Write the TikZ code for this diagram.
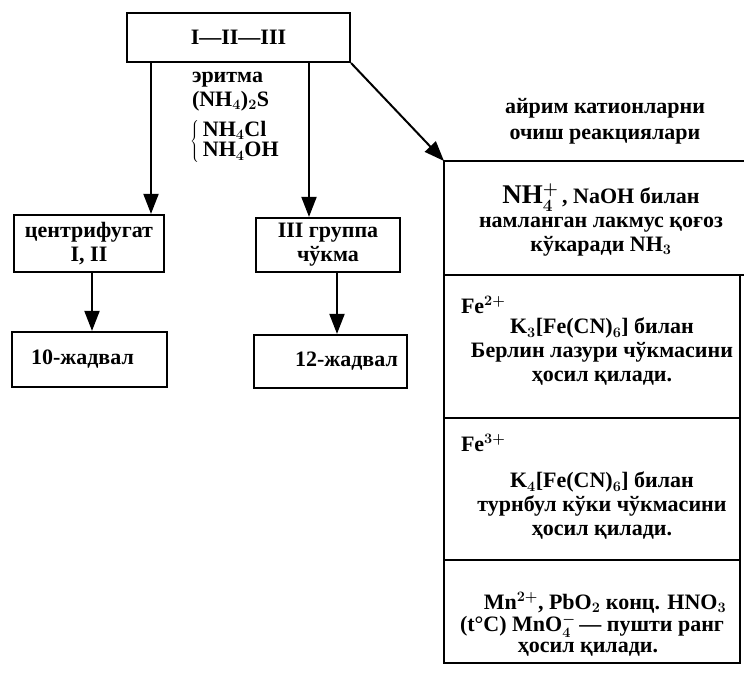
\documentclass[tikz,border=0pt]{standalone}
\usepackage{fontspec}
\setmainfont{Liberation Serif}
\usetikzlibrary{arrows.meta}
\newcommand\fsz{\fontsize{22}{24}\selectfont\bfseries\boldmath}
\newcommand\bigsz{\fontsize{27}{27}\selectfont}
\begin{document}
\begin{tikzpicture}[x=1pt,y=-1pt,
  line width=2pt,
  box/.style={draw, line width=2.2pt, inner sep=0pt, font=\fsz, align=center},
  arr/.style={-{Triangle[length=20pt,width=15pt]}, line width=2pt},
  txt/.style={inner sep=0pt, align=center, font=\fsz}]
\useasboundingbox (0,0) rectangle (744,676);

% top box
\node[box, minimum width=223pt, minimum height=49pt] (top) at (238.5,37.5) {I—II—III};
% second level
\node[box, minimum width=150pt, minimum height=57pt] (cf) at (89,243.5) {центрифугат\\I, II};
\node[box, minimum width=144pt, minimum height=54pt] (g3) at (328,245) {III группа\\чўкма};
% third level
\node[box, minimum width=155pt, minimum height=55pt,
      label={[txt, xshift=-7pt]center:10-жадвал}] (t10) at (89.5,359.5) {};
\node[box, minimum width=153pt, minimum height=53pt,
      label={[txt, xshift=16pt]center:12-жадвал}] (t12) at (330.5,361.5) {};

% reagent label
\node[txt, anchor=west, align=left] (lab1) at (191,92) {эритма\\(NH\(_4\))\(_2\)S};
\node[txt, anchor=west, align=left] (lab2) at (189,142)
  {\(\left\{\,\def\arraystretch{0.82}\begin{tabular}{@{}l@{}}NH\(_4\)Cl\\NH\(_4\)OH\end{tabular}\right.\)};

% connectors
\coordinate (xL) at (151,0);
\coordinate (xM) at (309,0);
\coordinate (xL2) at (92,0);
\coordinate (xM2) at (337,0);
\coordinate (tl) at (444,161);
\draw[arr] (top.south -| xL) -- (cf.north -| xL);
\draw[arr] (top.south -| xM) -- (g3.north -| xM);
\draw[arr] (cf.south -| xL2) -- (t10.north -| xL2);
\draw[arr] (g3.south -| xM2) -- (t12.north -| xM2);
\draw[arr] (top.south east) -- (tl);

% header
\node[txt] (hdr) at (605,121) {айрим катионларни\\[2pt]очиш реакциялари};

% table
\draw (744,161) -- (tl) -- (444,663) -- (740,663) -- (740,275);
\draw (444,275) -- (744,275);
\draw (444,418) -- (740,418);
\draw (444,560) -- (740,560);

% cells
\node[txt] (c1) at (601,220) {{\bigsz NH\(_4^+\)}\,, NaOH билан\\намланган лакмус қоғоз\\кўкаради NH\(_3\)};
\node[txt, anchor=west] (fe2) at (460,305) {Fe\(^{2+}\)};
\node[txt] (c2) at (602,352) {K\(_3\)[Fe(CN)\(_6\)] билан\\Берлин лазури чўкмасини\\ҳосил қилади.};
\node[txt, anchor=west] (fe3) at (460,443) {Fe\(^{3+}\)};
\node[txt] (c3) at (602,506) {K\(_4\)[Fe(CN)\(_6\)] билан\\турнбул кўки чўкмасини\\ҳосил қилади.};
\node[txt] (c4a) at (605,603) {Mn\(^{2+}\), PbO\(_2\) конц. HNO\(_3\)};
\node[txt] (c4b) at (592,626) {(t°C) MnO\(_4^-\)\,— пушти ранг};
\node[txt] (c4c) at (588,649) {ҳосил қилади.};
\end{tikzpicture}
\end{document}
